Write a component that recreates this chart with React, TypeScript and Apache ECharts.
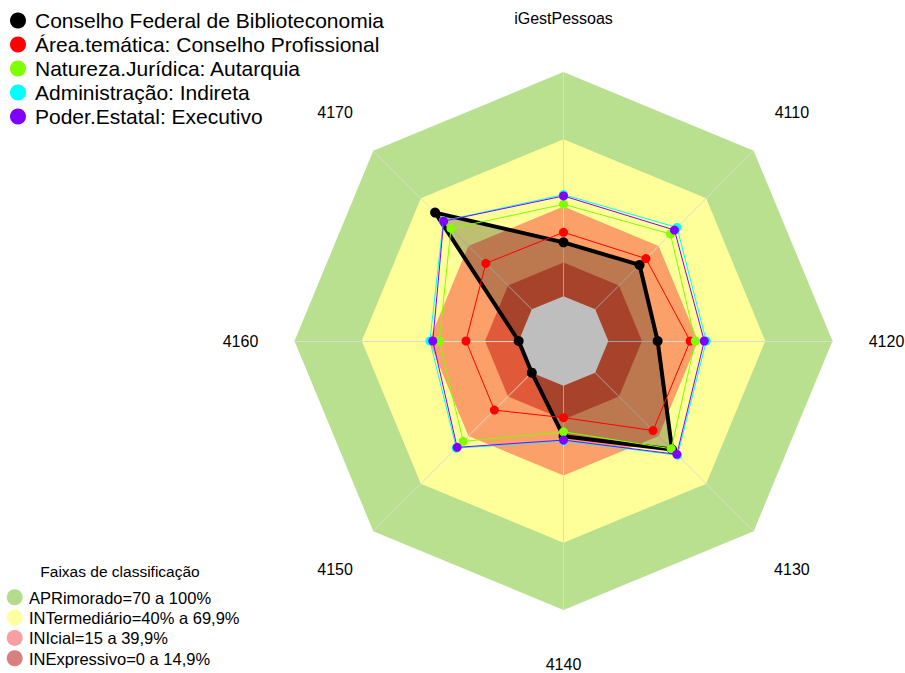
import React, { useEffect, useRef } from "react";
import * as echarts from "echarts";

// Axes in clockwise order, starting at the top
const AXES = ["iGestPessoas", "4110", "4120", "4130", "4140", "4150", "4160", "4170"];

const SERIES_NAMES = [
  "Conselho Federal de Biblioteconomia",
  "Área.temática: Conselho Profissional",
  "Natureza.Jurídica: Autarquia",
  "Administração: Indireta",
  "Poder.Estatal: Executivo",
];
const SERIES_COLORS = ["#000000", "#ff0000", "#80ff00", "#00ffff", "#8000ff"];

// values per axis (same order as AXES), percent
const conselhoFederal = [24, 28, 22, 48.5, 22.5, 0, 0, 61];
const areaTematica = [28.5, 32, 36.5, 36.5, 14.2, 23.6, 23.5, 29];
const naturezaJuridica = [41, 47.5, 38.8, 48, 20.5, 43.3, 35.4, 51];
const administracao = [45.3, 51.6, 43.7, 52, 24.6, 47.6, 39.6, 55.8];
const poderEstatal = [44.7, 50, 42.8, 51.5, 24.2, 47.1, 38.3, 55.6];

// classification bands (upper bounds, outer to inner) and colours
const BAND_UPPER = [100, 70, 40, 15, 0];
const BAND_COLORS = ["#b9e08f", "#ffff99", "#fba068", "#e05a3a", "#bebebe"];
const BAND_LEGEND_TITLE = "Faixas de classificação";
const BAND_LEGEND_LABELS = [
  "APRimorado=70 a 100%",
  "INTermediário=40% a 69,9%",
  "INIcial=15 a 39,9%",
  "INExpressivo=0 a 14,9%",
];
const BAND_LEGEND_COLORS = ["#b5dc8c", "#ffffa0", "#f8a0a0", "#d88080"];

const AXIS_MIN = -20;
const AXIS_MAX = 100;

const FONT = "'Liberation Sans', Arial, Helvetica, sans-serif";
const CX = 563.5;
const CY = 341;
const R = 269;
const LABEL_R = 323;

// ECharts lays indicators counter-clockwise; reorder to get clockwise layout
const ORDER = [0, 7, 6, 5, 4, 3, 2, 1];
const reorder = <T,>(arr: T[]): T[] => ORDER.map((i) => arr[i]);

export default function App() {
  const ref = useRef<HTMLDivElement>(null);

  useEffect(() => {
    if (!ref.current) return;
    const chart = echarts.init(ref.current, null, { renderer: "svg" });

    const values = [conselhoFederal, areaTematica, naturezaJuridica, administracao, poderEstatal];

    const axisNameGraphics = AXES.map((name, i) => {
      const a = ((90 - i * (360 / AXES.length)) * Math.PI) / 180;
      return {
        type: "text",
        x: CX + LABEL_R * Math.cos(a),
        y: CY - LABEL_R * Math.sin(a),
        silent: true,
        style: {
          text: name,
          fill: "#000",
          fontSize: 16,
          fontFamily: FONT,
          align: "center",
          verticalAlign: "middle",
        },
      };
    });

    const bandLegend: any[] = [
      {
        type: "text",
        x: 120,
        y: 571.5,
        style: {
          text: BAND_LEGEND_TITLE,
          fill: "#000",
          fontSize: 15.5,
          fontFamily: FONT,
          align: "center",
          verticalAlign: "middle",
        },
      },
    ];
    BAND_LEGEND_LABELS.forEach((lab, i) => {
      const y = 597.3 + i * 20.3;
      bandLegend.push({
        type: "circle",
        shape: { cx: 14.7, cy: y, r: 8 },
        style: { fill: BAND_LEGEND_COLORS[i] },
      });
      bandLegend.push({
        type: "text",
        x: 29,
        y: y + 0.5,
        style: {
          text: lab,
          fill: "#000",
          fontSize: 16.5,
          fontFamily: FONT,
          align: "left",
          verticalAlign: "middle",
        },
      });
    });

    // opaque nested band polygons (outer first), under the radar axes
    const bandSeries = BAND_UPPER.slice(0, 4).map((v, k) => ({
      type: "radar",
      name: "faixa" + k,
      z: 1,
      silent: true,
      symbol: "none",
      lineStyle: { width: 0, opacity: 0 },
      areaStyle: { color: BAND_COLORS[k], opacity: 1 },
      data: [{ value: AXES.map(() => v) }],
    }));

    const lineSeries = SERIES_NAMES.map((name, s) => ({
      type: "radar",
      name,
      z: 6 + s,
      silent: true,
      symbol: "circle",
      symbolSize: s === 0 ? 10 : 9,
      itemStyle: { color: SERIES_COLORS[s] },
      lineStyle: { color: SERIES_COLORS[s], width: s === 0 ? 4 : 1 },
      data: [{ value: reorder(values[s]), name }],
    }));

    chart.setOption({
      animation: false,
      textStyle: { fontFamily: FONT },
      legend: {
        data: SERIES_NAMES,
        orient: "vertical",
        left: 10,
        top: 10,
        padding: 0,
        itemGap: 3,
        itemWidth: 24,
        itemHeight: 16,
        icon: "circle",
        selectedMode: false,
        textStyle: { fontSize: 21, color: "#000", fontFamily: FONT },
      },
      radar: {
        z: 3,
        center: [CX, CY],
        radius: R,
        startAngle: 90,
        splitNumber: 6,
        shape: "polygon",
        indicator: reorder(AXES).map((name) => ({ name, min: AXIS_MIN, max: AXIS_MAX })),
        axisName: { show: false },
        axisLine: { show: true, lineStyle: { color: "#dadada", width: 1 } },
        splitLine: { show: false },
        splitArea: { show: false },
        axisTick: { show: false },
        axisLabel: { show: false },
      },
      graphic: [...axisNameGraphics, ...bandLegend],
      series: [
        ...bandSeries,
        {
          type: "radar",
          name: "fill",
          z: 4,
          silent: true,
          symbol: "none",
          lineStyle: { width: 0, opacity: 0 },
          areaStyle: { color: "rgba(0,0,0,0.25)", opacity: 1 },
          data: [{ value: reorder(conselhoFederal) }],
        },
        {
          type: "radar",
          name: "centro",
          z: 5,
          silent: true,
          symbol: "none",
          lineStyle: { width: 0, opacity: 0 },
          areaStyle: { color: BAND_COLORS[4], opacity: 1 },
          data: [{ value: AXES.map(() => BAND_UPPER[4]) }],
        },
        ...lineSeries,
      ],
    });

    return () => chart.dispose();
  }, []);

  return (
    <div
      ref={ref}
      style={{ position: "fixed", left: 0, top: 0, width: 905, height: 673, background: "#fff" }}
    />
  );
}
